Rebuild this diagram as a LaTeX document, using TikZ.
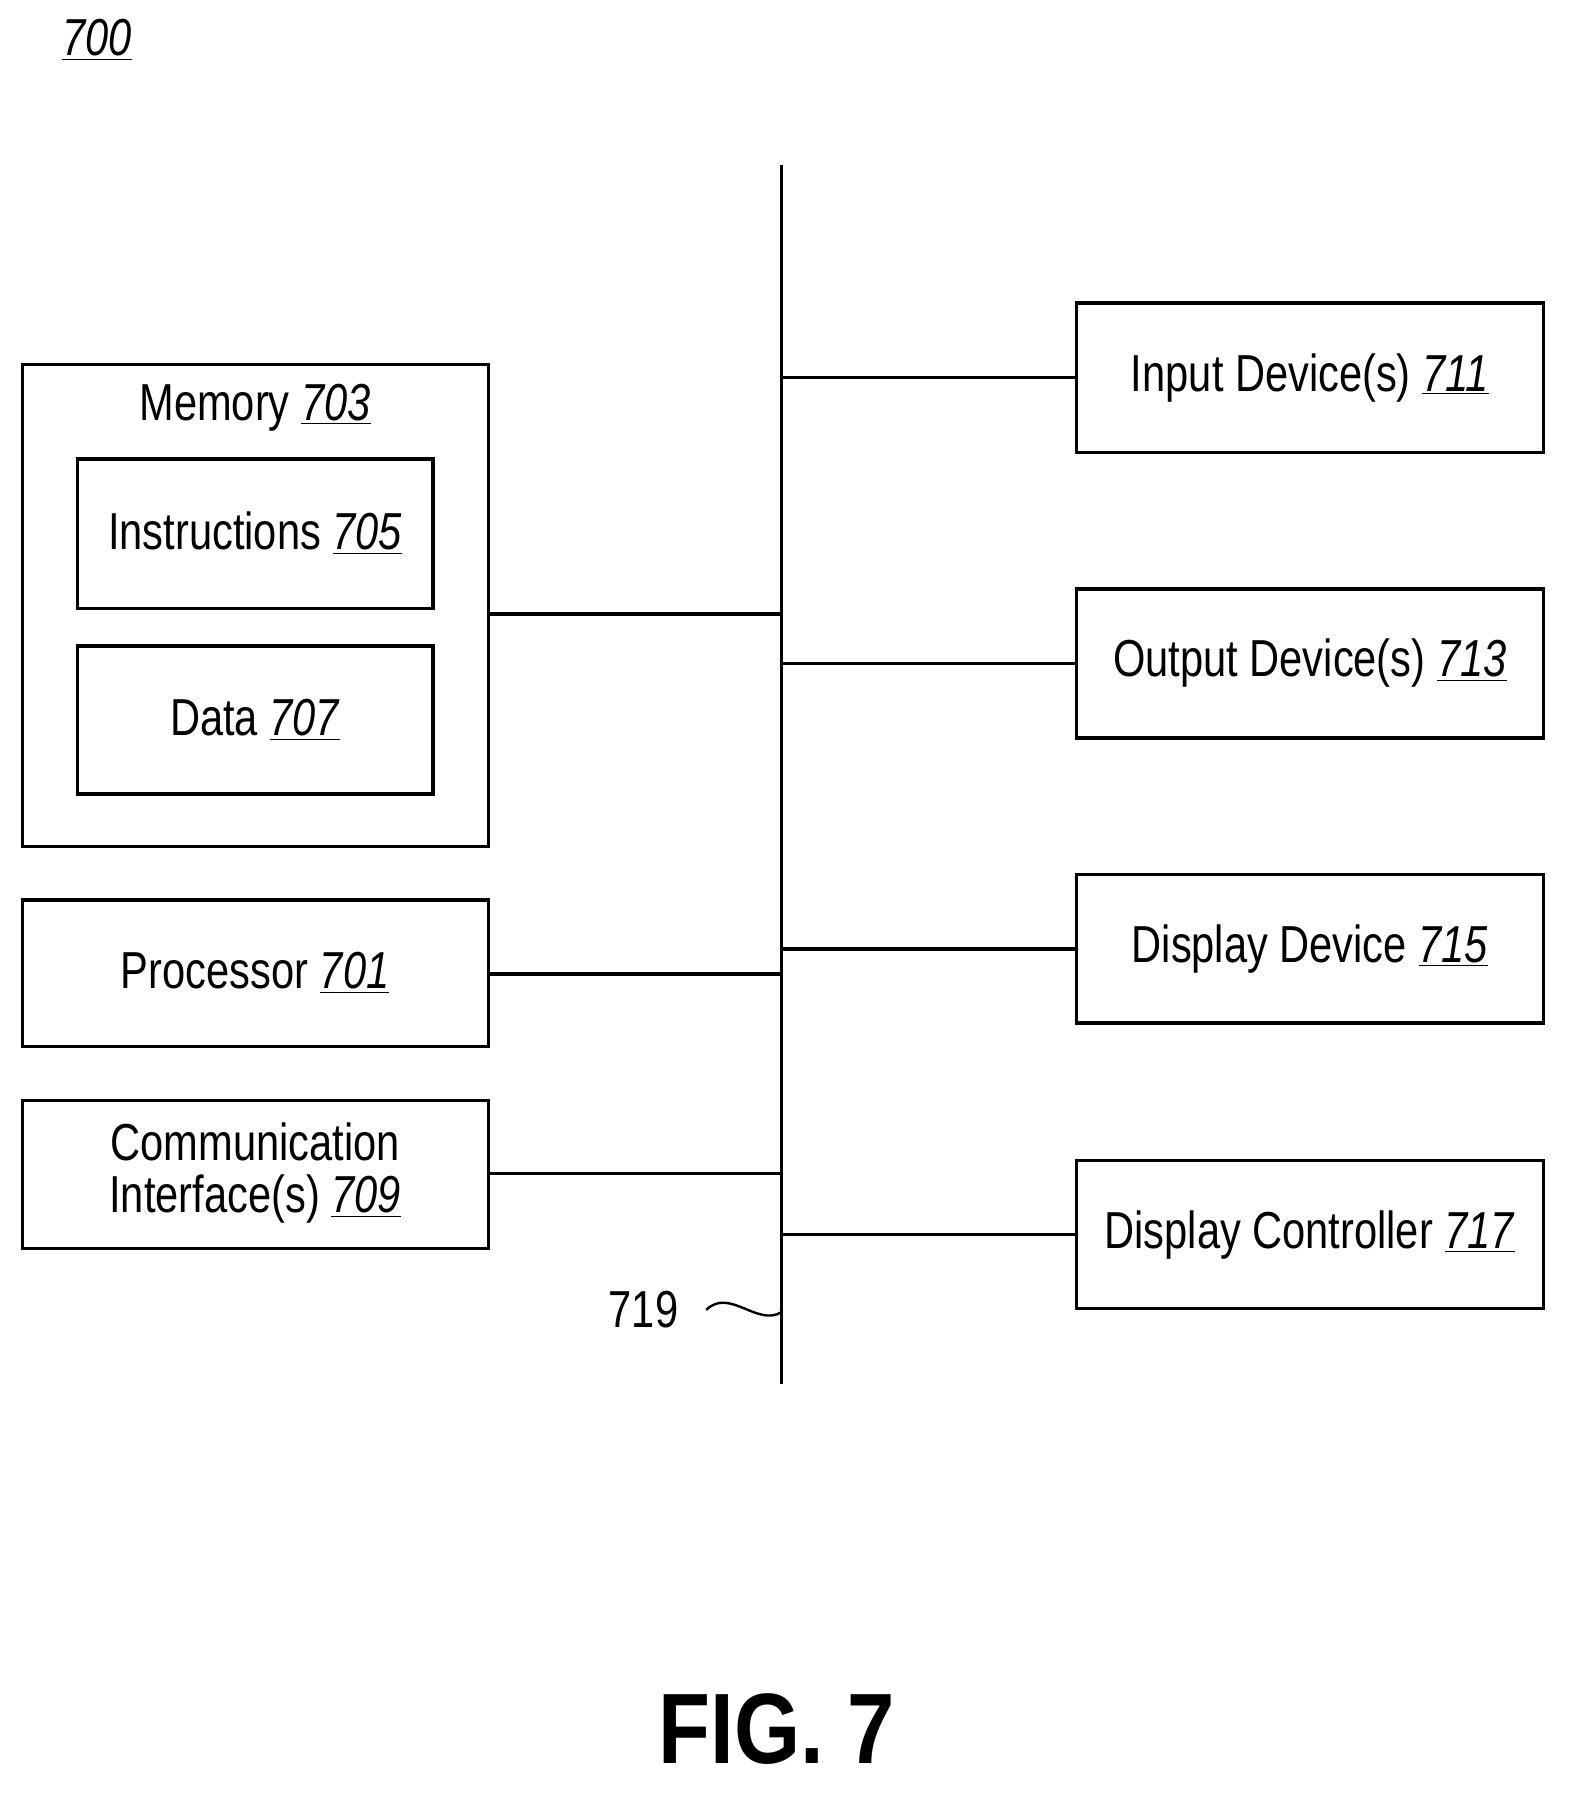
\documentclass[tikz,border=0pt]{standalone}
\usepackage{fontspec}
\setmainfont{Liberation Sans}[FakeStretch=0.8]
\newfontfamily\figfont{Liberation Sans}[FakeStretch=0.85]
\newcommand{\rn}[1]{\underline{\textit{#1}}}
\begin{document}
\begin{tikzpicture}[x=0.02cm,y=-0.02cm,
  box/.style={draw,line width=1.7pt,inner sep=0},
  ln/.style={line width=1.7pt},
  lab/.style={font=\fontsize{26}{32}\selectfont,align=center}]
\useasboundingbox (0,0) rectangle (1380,1575);
\node[lab] (n700) at (85,35) {\rn{700}};
\coordinate (bt) at (686,145);
\coordinate (bb) at (686,1215);
\draw[ln] (bt) -- (bb);
\draw[box] (20,320) rectangle (429,743);
\node[lab] (mem) at (224,358) {Memory \rn{703}};
\draw[box] (68,403) rectangle (380,534);
\node[lab] (ins) at (224,468) {Instructions \rn{705}};
\draw[box] (68,567) rectangle (380,697);
\node[lab] (dat) at (224,632) {Data \rn{707}};
\draw[box] (20,790) rectangle (429,919);
\node[lab] (proc) at (224,854) {Processor \rn{701}};
\draw[box] (20,966) rectangle (429,1096);
\node[lab] (comm) at (224,1030) {Communication\\[-6pt]Interface(s) \rn{709}};
\foreach \ya/\yb/\t [count=\i] in {266/397/Input Device(s) \rn{711},517/648/Output Device(s) \rn{713},768/898/Display Device \rn{715},1019/1149/Display Controller \rn{717}}{
  \draw[box] (945,\ya) rectangle (1355,\yb);
  \node[lab] (r\i) at (1150,{(\ya+\yb)/2}) {\t};
  \draw[ln] (686,{(\ya+\yb)/2}) -- (945,{(\ya+\yb)/2});
}
\draw[ln] (429,539) -- (686,539);
\draw[ln] (429,855) -- (686,855);
\draw[ln] (429,1030) -- (686,1030);
\node[lab] (n719) at (565,1150) {719};
\draw[line width=1.2pt] (620,1150) .. controls (640,1130) and (665,1165) .. (686,1152);
\node[font=\figfont\bfseries\fontsize{50}{60}\selectfont] (fig) at (682,1518) {FIG. 7};
\end{tikzpicture}
\end{document}
